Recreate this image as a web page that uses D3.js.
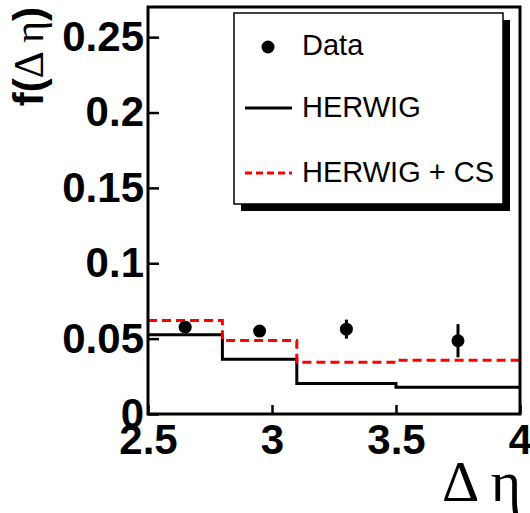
<!DOCTYPE html>
<html><head><meta charset="utf-8">
<script src="https://cdn.jsdelivr.net/npm/d3@7"></script>
<style>body{margin:0;background:#fff}svg{display:block}</style>
</head><body><svg id="c" width="530" height="513"></svg>
<script>
const binEdges = [2.5, 2.8, 3.1, 3.5, 4.0];
const herwig = [0.0525, 0.0364, 0.0203, 0.0177];
const herwigCS = [0.062, 0.0488, 0.0344, 0.0356];
const dataX = [2.65, 2.95, 3.30, 3.75];
const dataY = [0.0576, 0.0550, 0.0563, 0.0486];
const dataErr = [0.002, 0.002, 0.0063, 0.011];
const xTicks = [2.5, 3, 3.5, 4];
const yTicks = [0, 0.05, 0.1, 0.15, 0.2, 0.25];
const legendLabels = ["Data", "HERWIG", "HERWIG + CS"];

const svg = d3.select("#c");
const x = d3.scaleLinear().domain([2.5, 4]).range([148, 520]);
const y = d3.scaleLinear().domain([0, 0.27]).range([414, 7]);
const sans = "'Liberation Sans', Arial, Helvetica, sans-serif";
const serif = "'Liberation Serif', 'Times New Roman', serif";

// histograms
function stepPts(vals){
  const p = vals.map((v,i)=>[binEdges[i], v]);
  p.push([binEdges[binEdges.length-1], vals[vals.length-1]]);
  return p;
}
const line = d3.line().x(d=>x(d[0])).y(d=>y(d[1])).curve(d3.curveStepAfter);
svg.append("path").attr("d", line(stepPts(herwig)))
  .attr("fill","none").attr("stroke","#000").attr("stroke-width",3);
svg.append("path").attr("d", line(stepPts(herwigCS)))
  .attr("fill","none").attr("stroke","#ff0000").attr("stroke-width",3)
  .attr("stroke-dasharray","9,5");

// data points
const pts = svg.append("g");
dataX.forEach((dx,i)=>{
  pts.append("line").attr("x1",x(dx)).attr("x2",x(dx))
    .attr("y1",y(dataY[i]-dataErr[i])).attr("y2",y(dataY[i]+dataErr[i]))
    .attr("stroke","#000").attr("stroke-width",3);
  pts.append("circle").attr("cx",x(dx)).attr("cy",y(dataY[i])).attr("r",6.5).attr("fill","#000");
});

// axes
const fmt = d3.format("~g");
const ya = svg.append("g").attr("transform","translate(148,0)")
  .call(d3.axisLeft(y).tickValues(yTicks).tickFormat(fmt).tickSizeInner(-11).tickSizeOuter(0).tickPadding(4));
const xa = svg.append("g").attr("transform","translate(0,414)")
  .call(d3.axisBottom(x).tickValues(xTicks).tickFormat(fmt).tickSizeInner(-9).tickSizeOuter(0).tickPadding(10));
[ya, xa].forEach(a=>{
  a.select(".domain").remove();
  a.selectAll(".tick line").attr("stroke","#000").attr("stroke-width",2.5);
  a.selectAll(".tick text").attr("fill","#000").style("font-family",sans)
    .style("font-weight","bold").style("font-size","42px");
});

// frame
svg.append("rect").attr("x",x(2.5)).attr("y",y(0.27)).attr("width",x(4)-x(2.5)).attr("height",y(0)-y(0.27))
  .attr("fill","none").attr("stroke","#000").attr("stroke-width",3);

// legend
svg.append("rect").attr("x",241).attr("y",20).attr("width",269).attr("height",191).attr("fill","#000");
svg.append("rect").attr("x",234).attr("y",13).attr("width",269).attr("height",191)
  .attr("fill","#fff").attr("stroke","#000").attr("stroke-width",1.5);
const lg = svg.append("g");
lg.append("circle").attr("cx",268).attr("cy",47).attr("r",6.5).attr("fill","#000");
lg.append("line").attr("x1",245).attr("x2",292).attr("y1",108).attr("y2",108).attr("stroke","#000").attr("stroke-width",3);
lg.append("line").attr("x1",245).attr("x2",292).attr("y1",173).attr("y2",173).attr("stroke","#ff0000").attr("stroke-width",3).attr("stroke-dasharray","7,4");
const lgBase = [55, 117, 182];
legendLabels.forEach((t,i)=>{
  lg.append("text").attr("x",302).attr("y",lgBase[i]).text(t)
    .style("font-family",sans).style("font-size","29px").attr("fill","#000");
});

// axis titles
const xt = svg.append("text").attr("x",521).attr("y",501).attr("text-anchor","end")
  .style("font-family",serif).style("font-size","58px").attr("fill","#000");
xt.text("Δ η");

const yt = svg.append("text").attr("transform","translate(43,7) rotate(-90)").attr("text-anchor","end")
  .style("font-size","42px").attr("fill","#000");
yt.append("tspan").style("font-family",sans).style("font-weight","bold").text("f(");
yt.append("tspan").style("font-family",serif).text("Δ η");
yt.append("tspan").style("font-family",sans).style("font-weight","bold").text(")");
</script>
</body></html>
